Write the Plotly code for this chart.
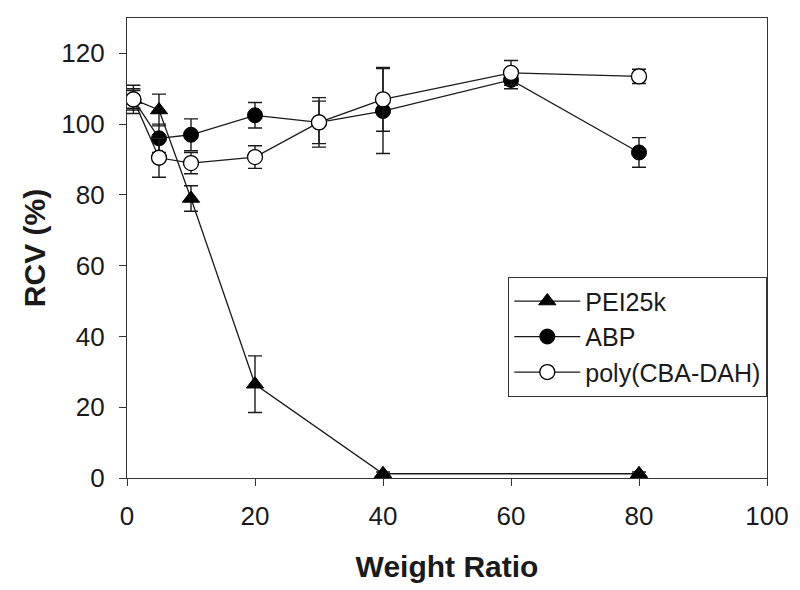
import plotly.graph_objects as go

# ---- data ----
x_pei = [1, 5, 10, 20, 40, 80]
pei = [107, 104, 79, 26.5, 1.2, 1.2]
pei_err = [4, 4.5, 3.6, 8, 0.5, 0.5]

x_abp = [1, 5, 10, 20, 30, 40, 60, 80]
abp = [107, 96, 97, 102.5, 100.5, 103.7, 112.5, 92]
abp_err = [2.5, 4, 4.5, 3.6, 7, 12, 2.5, 4.2]

x_poly = [1, 5, 10, 20, 30, 40, 60, 80]
poly = [107, 90.5, 89, 90.7, 100.5, 107, 114.5, 113.5]
poly_err = [3, 5.5, 3, 3.2, 6, 9, 3.5, 2]

x_ticks = [0, 20, 40, 60, 80, 100]
y_ticks = [0, 20, 40, 60, 80, 100, 120]

INK = "#1a1a1a"
FONT = "Liberation Sans, Arial, sans-serif"

def err(vals):
    return dict(type="data", array=vals, visible=True, color=INK,
                thickness=1.4, width=7)

fig = go.Figure()
fig.add_trace(go.Scatter(
    x=x_pei, y=pei, name="PEI25k", mode="lines+markers",
    line=dict(color=INK, width=1.3),
    marker=dict(symbol="triangle-up", size=15, color="black",
                line=dict(color="black", width=1)),
    error_y=err(pei_err)))
fig.add_trace(go.Scatter(
    x=x_abp, y=abp, name="ABP", mode="lines+markers",
    line=dict(color=INK, width=1.3),
    marker=dict(symbol="circle", size=15, color="black",
                line=dict(color="black", width=1)),
    error_y=err(abp_err)))
fig.add_trace(go.Scatter(
    x=x_poly, y=poly, name="poly(CBA-DAH)", mode="lines+markers",
    line=dict(color=INK, width=1.3),
    marker=dict(symbol="circle", size=15, color="white",
                line=dict(color="black", width=1.3)),
    error_y=err(poly_err)))

fig.update_layout(
    width=800, height=590,
    margin=dict(l=119, r=41, t=10, b=120),
    paper_bgcolor="white", plot_bgcolor="white",
    font=dict(family=FONT, color=INK),
    showlegend=True,
    legend=dict(x=1, xanchor="right", y=0.437, yanchor="top",
                bordercolor="#333", borderwidth=1.3, bgcolor="white",
                font=dict(size=25, family=FONT, color=INK),
                tracegroupgap=0, itemwidth=66),
    xaxis=dict(range=[0, 100], tickvals=x_ticks,
               ticktext=[str(v) for v in x_ticks],
               showgrid=False, zeroline=False,
               showline=True, linecolor="#333", linewidth=1.3, mirror=True,
               ticks="outside", ticklen=7, tickwidth=1.3, tickcolor="#333",
               ticklabelstandoff=8,
               tickfont=dict(size=26, family=FONT, color=INK),
               title=dict(text="<b>Weight Ratio</b>",
                          font=dict(size=30, family=FONT, color=INK),
                          standoff=25)),
    yaxis=dict(range=[0, 130], tickvals=y_ticks,
               ticktext=[str(v) for v in y_ticks],
               showgrid=False, zeroline=False,
               showline=True, linecolor="#333", linewidth=1.3, mirror=True,
               ticks="outside", ticklen=7, tickwidth=1.3, tickcolor="#333",
               ticklabelstandoff=9,
               tickfont=dict(size=26, family=FONT, color=INK),
               title=dict(text="<b>RCV (%)</b>",
                          font=dict(size=30, family=FONT, color=INK),
                          standoff=6)),
)

fig.write_html("out.html")
